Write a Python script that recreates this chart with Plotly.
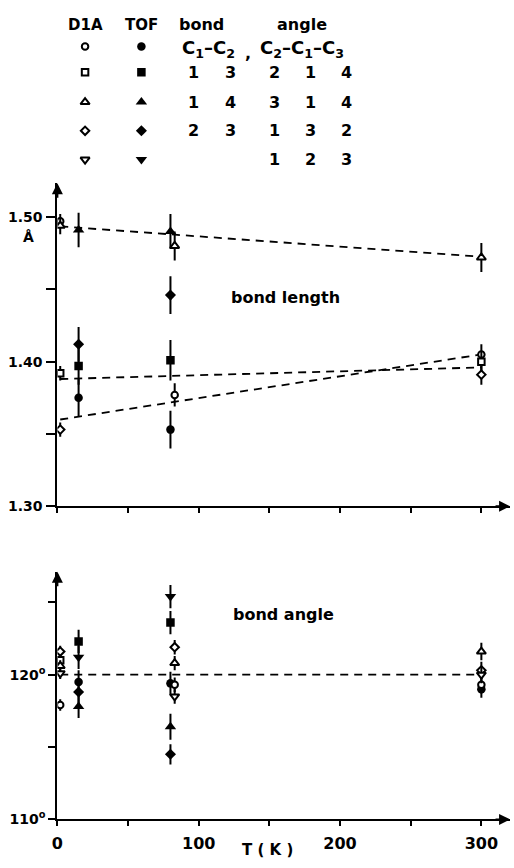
import plotly.graph_objects as go

W, H = 514, 868

# ---------------- bond lengths (Å) ----------------
# D1A (open symbols) / TOF (filled symbols)
c12_T_d1a = [2, 83, 300]
c12_r_d1a = [1.497, 1.377, 1.405]
c12_e_d1a = [0.005, 0.008, 0.007]
c12_T_tof = [15, 80]
c12_r_tof = [1.375, 1.353]
c12_e_tof = [0.013, 0.013]

c13_T_d1a = [2, 300]
c13_r_d1a = [1.392, 1.400]
c13_e_d1a = [0.005, 0.007]
c13_T_tof = [15, 80]
c13_r_tof = [1.397, 1.401]
c13_e_tof = [0.013, 0.014]

c14_T_d1a = [2, 83, 300]
c14_r_d1a = [1.494, 1.480, 1.472]
c14_e_d1a = [0.006, 0.010, 0.010]
c14_T_tof = [15, 80]
c14_r_tof = [1.491, 1.490]
c14_e_tof = [0.012, 0.012]

c23_T_d1a = [2, 300]
c23_r_d1a = [1.353, 1.391]
c23_e_d1a = [0.005, 0.007]
c23_T_tof = [15, 80]
c23_r_tof = [1.412, 1.446]
c23_e_tof = [0.012, 0.013]

# dashed trend lines for the bond lengths
trend_T = [2, 300]
trend_c14 = [1.4935, 1.4725]
trend_flat = [1.388, 1.396]
trend_rise = [1.360, 1.405]

# ---------------- bond angles (deg) ----------------
a213_T_d1a = [2, 83, 300]
a213_v_d1a = [117.9, 119.3, 119.3]
a213_e_d1a = [0.4, 0.5, 0.6]
a213_T_tof = [15, 80, 300]
a213_v_tof = [119.5, 119.4, 119.0]
a213_e_tof = [0.8, 0.8, 0.6]

a214_T_d1a = [2]
a214_v_d1a = [121.0]
a214_e_d1a = [0.4]
a214_T_tof = [15, 80]
a214_v_tof = [122.3, 123.6]
a214_e_tof = [0.8, 0.8]

a314_T_d1a = [2, 83, 300]
a314_v_d1a = [120.6, 120.8, 121.6]
a314_e_d1a = [0.4, 0.5, 0.6]
a314_T_tof = [15, 80]
a314_v_tof = [117.8, 116.4]
a314_e_tof = [0.8, 0.9]

a132_T_d1a = [2, 83, 300]
a132_v_d1a = [121.6, 121.9, 120.3]
a132_e_d1a = [0.4, 0.5, 0.6]
a132_T_tof = [15, 80]
a132_v_tof = [118.8, 114.5]
a132_e_tof = [0.8, 0.7]

a123_T_d1a = [2, 83, 300]
a123_v_d1a = [120.1, 118.5, 120.0]
a123_e_d1a = [0.4, 0.5, 0.6]
a123_T_tof = [15, 80]
a123_v_tof = [121.2, 125.4]
a123_e_tof = [0.8, 0.8]

angle_trend_T = [2, 300]
angle_trend = [120.0, 120.0]

# axis ticks
x_ticks = [0, 50, 100, 150, 200, 250, 300]
x_ticktext = ["0", "", "100", "", "200", "", "300"]
len_ticks = [1.30, 1.35, 1.40, 1.45, 1.50]
len_ticktext = ["1.30", "", "1.40", "", "1.50"]
ang_ticks = [110, 115, 120, 125]
ang_ticktext = ["110<sup>o</sup>", "", "120<sup>o</sup>", ""]

FONT = "DejaVu Sans"
fig = go.Figure()


def px_x(x):
    return x / W


def px_y(y):
    return 1 - y / H


def bold(size):
    return dict(family=FONT, size=size, color="black", weight="bold")


def add_line(T, v, xa, ya):
    fig.add_trace(go.Scatter(
        x=T, y=v, mode="lines", xaxis=xa, yaxis=ya, showlegend=False,
        line=dict(color="black", width=1.8, dash="8px,6px"), hoverinfo="skip"))


def marker_style(symbol, filled):
    big = symbol.startswith("triangle")
    if filled:
        return dict(symbol=symbol, size=10 if big else 8.5, color="black",
                    line=dict(color="black", width=0))
    return dict(symbol=symbol, size=8 if big else 6.5, color="white",
                line=dict(color="black", width=2))


def add_points(T, v, err, symbol, filled, xa, ya):
    fig.add_trace(go.Scatter(
        x=T, y=v, mode="markers", xaxis=xa, yaxis=ya, showlegend=False,
        marker=marker_style(symbol, filled),
        error_y=dict(type="data", array=err, color="black",
                     thickness=2, width=0)))


# bond-length panel
add_line(trend_T, trend_c14, "x", "y")
add_line(trend_T, trend_flat, "x", "y")
add_line(trend_T, trend_rise, "x", "y")
add_points(c12_T_tof, c12_r_tof, c12_e_tof, "circle", True, "x", "y")
add_points(c13_T_tof, c13_r_tof, c13_e_tof, "square", True, "x", "y")
add_points(c14_T_tof, c14_r_tof, c14_e_tof, "triangle-up", True, "x", "y")
add_points(c23_T_tof, c23_r_tof, c23_e_tof, "diamond", True, "x", "y")
add_points(c12_T_d1a, c12_r_d1a, c12_e_d1a, "circle", False, "x", "y")
add_points(c13_T_d1a, c13_r_d1a, c13_e_d1a, "square", False, "x", "y")
add_points(c14_T_d1a, c14_r_d1a, c14_e_d1a, "triangle-up", False, "x", "y")
add_points(c23_T_d1a, c23_r_d1a, c23_e_d1a, "diamond", False, "x", "y")

# bond-angle panel
add_line(angle_trend_T, angle_trend, "x2", "y2")
add_points(a213_T_tof, a213_v_tof, a213_e_tof, "circle", True, "x2", "y2")
add_points(a214_T_tof, a214_v_tof, a214_e_tof, "square", True, "x2", "y2")
add_points(a314_T_tof, a314_v_tof, a314_e_tof, "triangle-up", True, "x2", "y2")
add_points(a132_T_tof, a132_v_tof, a132_e_tof, "diamond", True, "x2", "y2")
add_points(a123_T_tof, a123_v_tof, a123_e_tof, "triangle-down", True, "x2", "y2")
add_points(a213_T_d1a, a213_v_d1a, a213_e_d1a, "circle", False, "x2", "y2")
add_points(a214_T_d1a, a214_v_d1a, a214_e_d1a, "square", False, "x2", "y2")
add_points(a314_T_d1a, a314_v_d1a, a314_e_d1a, "triangle-up", False, "x2", "y2")
add_points(a132_T_d1a, a132_v_d1a, a132_e_d1a, "diamond", False, "x2", "y2")
add_points(a123_T_d1a, a123_v_d1a, a123_e_d1a, "triangle-down", False, "x2", "y2")

# symbol key at the top (pixel-space axis limited to the key strip)
KEY_TOP, KEY_BOTTOM = 0, 175
key_symbols = ["circle", "square", "triangle-up", "diamond", "triangle-down"]
key_rows = [47, 73, 103, 132, 161]
for sym, yy in zip(key_symbols, key_rows):
    fig.add_trace(go.Scatter(
        x=[80], y=[yy], mode="markers", xaxis="x3", yaxis="y3", showlegend=False,
        marker=marker_style(sym, False)))
    fig.add_trace(go.Scatter(
        x=[137], y=[yy], mode="markers", xaxis="x3", yaxis="y3", showlegend=False,
        marker=marker_style(sym, True)))

x_dom = [52 / W, 510 / W]
x_max = 320.3
axis_common = dict(showline=True, linecolor="black", linewidth=2, showgrid=False,
                   zeroline=False, ticks="outside", tickcolor="black", tickwidth=2)

fig.update_layout(
    width=W, height=H, margin=dict(l=0, r=0, t=0, b=0),
    paper_bgcolor="white", plot_bgcolor="rgba(0,0,0,0)",
    font=bold(14),
    xaxis=dict(domain=x_dom, range=[0, x_max], anchor="y", tickvals=x_ticks,
               showticklabels=False, ticklen=5, **axis_common),
    yaxis=dict(domain=[px_y(511), px_y(185)], range=[1.30, 1.5233], anchor="x",
               tickvals=len_ticks, ticktext=len_ticktext, ticklen=9,
               tickfont=bold(14), ticklabelstandoff=1, **axis_common),
    xaxis2=dict(domain=x_dom, range=[0, x_max], anchor="y2", tickvals=x_ticks,
                ticktext=x_ticktext, ticklen=5, tickfont=bold(16),
                ticklabelstandoff=3, **axis_common),
    yaxis2=dict(domain=[px_y(827), px_y(577)], range=[110, 127.12], anchor="x2",
                tickvals=ang_ticks, ticktext=ang_ticktext, ticklen=7,
                tickfont=bold(14), ticklabelstandoff=0, **axis_common),
    xaxis3=dict(domain=[0, 1], range=[0, W], visible=False, anchor="y3"),
    yaxis3=dict(domain=[px_y(KEY_BOTTOM), px_y(KEY_TOP)],
                range=[KEY_BOTTOM, KEY_TOP], visible=False, anchor="x3"),
)

ann = []

# axis arrowheads
for xa, ya, y0, ytop in [("x", "y", 1.30, 1.5233), ("x2", "y2", 110, 127.12)]:
    ann.append(dict(x=0, y=ytop, xref=xa, yref=ya, ax=0, ay=16, text="",
                    showarrow=True, arrowhead=2, arrowsize=1.1, arrowwidth=2,
                    arrowcolor="black"))
    ann.append(dict(x=x_max, y=y0, xref=xa, yref=ya, ax=-16, ay=0, text="",
                    showarrow=True, arrowhead=2, arrowsize=1.1, arrowwidth=2,
                    arrowcolor="black"))


def text(x, y, s, size=15):
    ann.append(dict(x=px_x(x), y=px_y(y), xref="paper", yref="paper", text=s,
                    showarrow=False, xanchor="center", yanchor="middle",
                    font=bold(size)))


text(23, 239, "Å", 14)
text(283, 300, "bond length", 16)
text(281, 620, "bond angle", 16)
text(265, 858, "T ( K )", 15)

# key table
text(80, 25, "D1A", 15)
text(137, 25, "TOF", 15)
text(198, 25, "bond", 16)
text(300, 25, "angle", 16)
text(205, 49, "C<sub>1</sub>–C<sub>2</sub>", 18)
text(245, 54, ",", 16)
text(300, 49, "C<sub>2</sub>–C<sub>1</sub>–C<sub>3</sub>", 18)
key_numbers = [
    (73, ["1", "3", "2", "1", "4"]),
    (103, ["1", "4", "3", "1", "4"]),
    (132, ["2", "3", "1", "3", "2"]),
    (161, ["", "", "1", "2", "3"]),
]
key_cols = [190, 227, 272, 308, 345]
for yy, nums in key_numbers:
    for xx, s in zip(key_cols, nums):
        if s:
            text(xx, yy, s, 16)

fig.update_layout(annotations=ann)
fig.write_html("out.html")
